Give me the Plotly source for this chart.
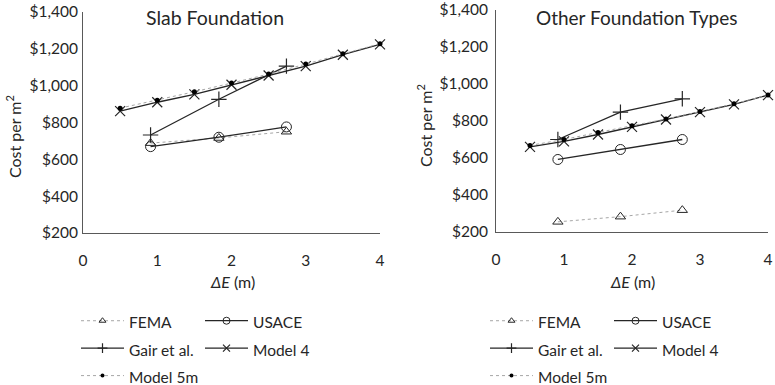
import plotly.graph_objects as go

# ---------------- data ----------------
series_names = ["FEMA", "USACE", "Gair et al.", "Model 4", "Model 5m"]

x_ft = [0.91, 1.83, 2.74]                       # 3, 6, 9 ft in metres
x_model = [0.5, 1.0, 1.5, 2.0, 2.5, 3.0, 3.5, 4.0]

# Slab foundation
slab_fema = [688, 716, 750]
slab_usace = [669, 720, 776]
slab_gair = [732, 926, 1106]
slab_model4 = [862, 910, 953, 1005, 1055, 1106, 1168, 1224]
slab_model5m = [878, 921, 967, 1014, 1063, 1117, 1173, 1228]

# Other foundation types
oth_fema = [255, 283, 318]
oth_usace = [592, 646, 700]
oth_gair = [700, 848, 920]
oth_model4 = [660, 690, 727, 768, 808, 848, 890, 940]
oth_model5m = [668, 700, 738, 774, 811, 851, 893, 940]

y_ticks = [200, 400, 600, 800, 1000, 1200, 1400]
x_ticks = [0, 1, 2, 3, 4]

# ---------------- style ----------------
W, H = 775, 385
FONT = "Lato, Calibri, Carlito, sans-serif"
DARK = "#262626"
LIGHT = "#a6a6a6"
AXIS = "#595959"
TXT = "#262626"

styles = {
    "FEMA": dict(line=dict(color=LIGHT, width=1, dash="dot"),
                 marker=dict(symbol="triangle-up-open", size=9, color=DARK, line=dict(width=1, color=DARK))),
    "USACE": dict(line=dict(color=DARK, width=1.3),
                  marker=dict(symbol="circle-open", size=10, color=DARK, line=dict(width=1, color=DARK))),
    "Gair et al.": dict(line=dict(color=DARK, width=1.3),
                        marker=dict(symbol="cross-thin-open", size=11, color=DARK, line=dict(width=1.2, color=DARK))),
    "Model 4": dict(line=dict(color=DARK, width=1.3),
                    marker=dict(symbol="x-thin-open", size=10, color=DARK, line=dict(width=1.2, color=DARK))),
    "Model 5m": dict(line=dict(color=LIGHT, width=1, dash="dot"),
                     marker=dict(symbol="circle", size=5, color="#000000", line=dict(width=0))),
}
legend_marker_size = {"FEMA": 6, "USACE": 7, "Gair et al.": 7, "Model 4": 7, "Model 5m": 4}
groups = {"FEMA": "c1", "Gair et al.": "c1", "Model 5m": "c1", "USACE": "c2", "Model 4": "c2"}

panels = [
    dict(xa="x", ya="y", legend="legend", tag="L",
         data={"FEMA": (x_ft, slab_fema), "USACE": (x_ft, slab_usace),
               "Gair et al.": (x_ft, slab_gair), "Model 4": (x_model, slab_model4),
               "Model 5m": (x_model, slab_model5m)}),
    dict(xa="x2", ya="y2", legend="legend2", tag="R",
         data={"FEMA": (x_ft, oth_fema), "USACE": (x_ft, oth_usace),
               "Gair et al.": (x_ft, oth_gair), "Model 4": (x_model, oth_model4),
               "Model 5m": (x_model, oth_model5m)}),
]

fig = go.Figure()
for p in panels:
    for name in series_names:
        xs, ys = p["data"][name]
        st = styles[name]
        fig.add_trace(go.Scatter(
            x=xs, y=ys, mode="lines+markers", name=name,
            line=st["line"], marker=st["marker"],
            xaxis=p["xa"], yaxis=p["ya"], showlegend=False,
            legendgroup=p["tag"] + groups[name], cliponaxis=False,
            hovertemplate=name + ": %{y:$,.0f}<extra></extra>",
        ))
    # legend entries (smaller symbols, as in the reference key)
    for name in series_names:
        st = styles[name]
        mk = dict(st["marker"])
        mk["size"] = legend_marker_size[name]
        fig.add_trace(go.Scatter(
            x=[None], y=[None], mode="lines+markers",
            name='<span style="font-size:15.5px">' + name + "</span>",
            line=st["line"], marker=mk,
            xaxis=p["xa"], yaxis=p["ya"], legend=p["legend"], showlegend=True,
            legendgroup=p["tag"] + groups[name], hoverinfo="skip",
        ))

def px(x):
    return x / W

def py(y):
    return 1 - y / H

axis_common = dict(showgrid=False, zeroline=False, showline=True, linecolor=AXIS, linewidth=1,
                   ticks="", automargin=False, tickfont=dict(family=FONT, size=15.5, color=TXT))

legend_common = dict(orientation="h", traceorder="grouped", xanchor="left", yanchor="top",
                     font=dict(family=FONT, size=18.8, color=TXT), itemwidth=43, entrywidth=66,
                     entrywidthmode="pixels", bgcolor="rgba(0,0,0,0)", itemclick=False,
                     itemdoubleclick=False)

fig.update_layout(
    width=W, height=H,
    margin=dict(l=0, r=0, t=0, b=0, autoexpand=False),
    paper_bgcolor="white", plot_bgcolor="white",
    font=dict(family=FONT, color=TXT),
    xaxis=dict(domain=[px(83), px(380)], range=[0, 4], tickvals=x_ticks, anchor="y",
               ticklabelstandoff=13, **axis_common),
    yaxis=dict(domain=[py(233), py(12)], range=[200, 1400], tickvals=y_ticks, tickformat="$,.0f",
               anchor="x", ticklabelstandoff=1, **axis_common),
    xaxis2=dict(domain=[px(496), px(768)], range=[0, 4], tickvals=x_ticks, anchor="y2",
                ticklabelstandoff=13, **axis_common),
    yaxis2=dict(domain=[py(232), py(10)], range=[200, 1400], tickvals=y_ticks, tickformat="$,.0f",
                anchor="x2", ticklabelstandoff=4, **axis_common),
    legend=dict(x=px(76), y=py(302), **legend_common),
    legend2=dict(x=px(485), y=py(302), **legend_common),
    showlegend=True,
)

annos = [
    dict(text="Slab Foundation", x=px(215), y=py(17), size=19.5),
    dict(text="Other Foundation Types", x=px(637), y=py(17), size=19),
    dict(text="<i>ΔE</i> (m)", x=px(232), y=py(281), size=16),
    dict(text="<i>ΔE</i> (m)", x=px(632), y=py(281), size=16),
]
for a in annos:
    fig.add_annotation(text=a["text"], x=a["x"], y=a["y"], xref="paper", yref="paper",
                       xanchor="center", yanchor="middle", showarrow=False,
                       font=dict(family=FONT, size=a["size"], color=TXT))

for xx, yy in [(13, 137), (424, 126)]:
    fig.add_annotation(text="Cost per m<sup>2</sup>", x=px(xx), y=py(yy), xref="paper", yref="paper",
                       xanchor="center", yanchor="middle", showarrow=False, textangle=-90,
                       font=dict(family=FONT, size=16, color=TXT))

fig.write_html("out.html", config={"displayModeBar": False},
               post_script="document.body.style.margin='0';document.body.style.overflow='hidden';")
